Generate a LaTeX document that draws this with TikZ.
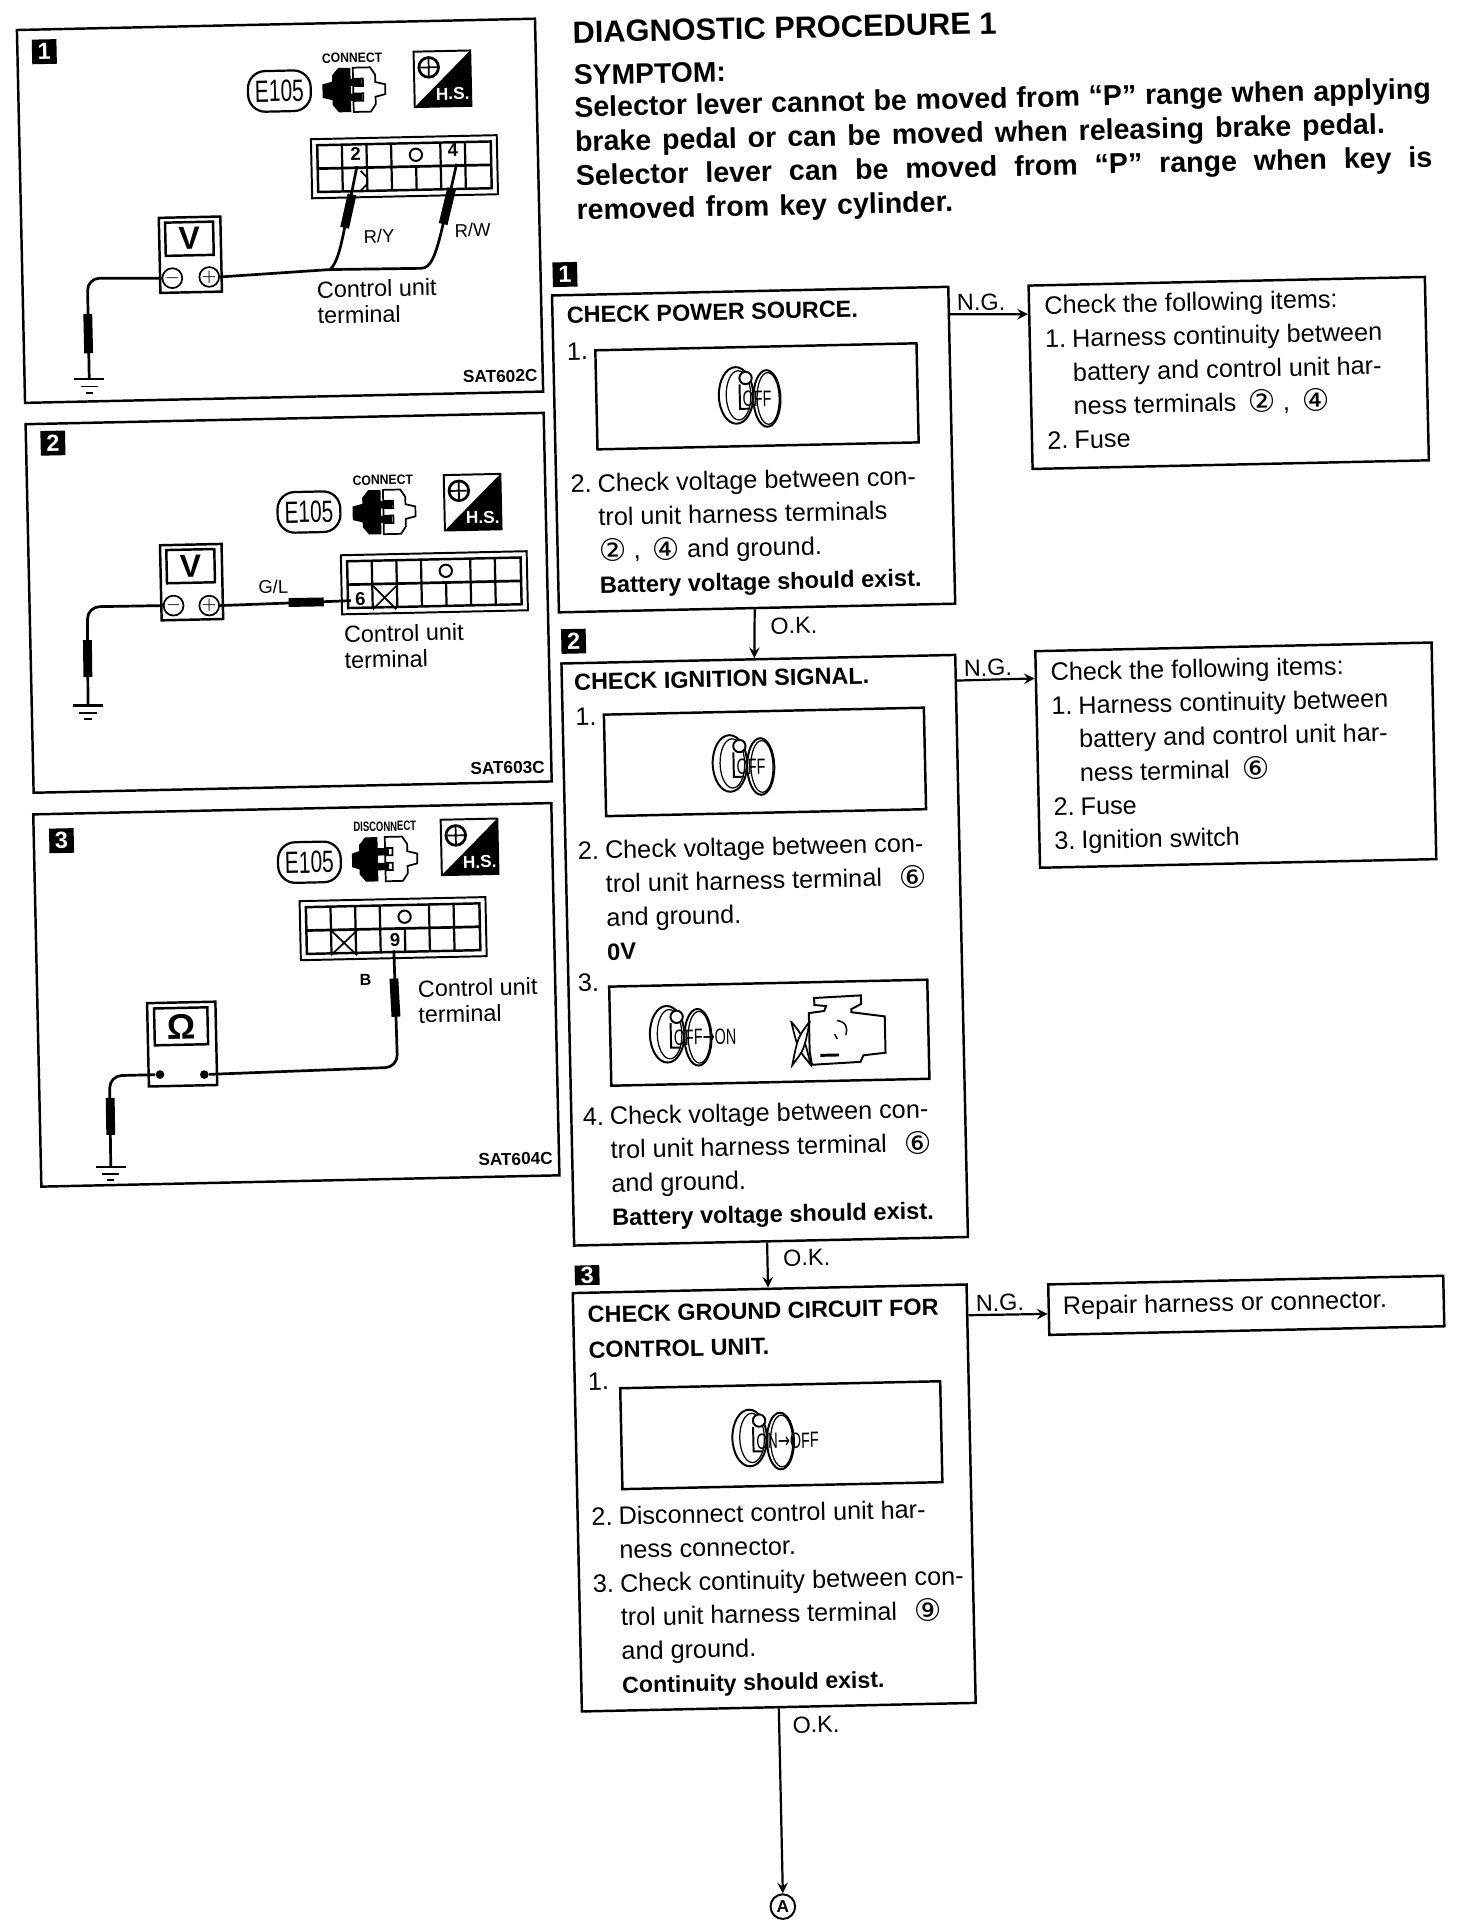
\documentclass[tikz,border=0pt]{standalone}
\usepackage{fontspec}
\usepackage{graphicx}
\setmainfont{Liberation Sans}
\newfontfamily\symfont{DejaVu Sans}
\usetikzlibrary{arrows,positioning,calc}

\newcommand{\skewangle}{1.25}
\newcommand{\ind}{\hspace*{11pt}}
\newcommand{\nitem}[1]{\makebox[11pt][l]{#1}}
\newcommand{\cnum}[1]{\raisebox{-.8pt}{\symfont\fontsize{12.5}{12.5}\selectfont #1}}
\newcommand{\lineto}[2]{\makebox[#1][s]{#2}}
\newcommand{\boldnote}[1]{{\bfseries\fontsize{9.6}{13.7}\selectfont #1}}

\begin{document}
\begin{tikzpicture}[
    x=.5pt, y=-.5pt,
    >=stealth,
    boxline/.style={draw, line width=1pt, rotate=\skewangle, inner sep=0pt},
    badge/.style={fill=black, text=white, rotate=\skewangle, inner sep=0pt, minimum size=10pt, font=\bfseries\fontsize{9.5}{9.5}\selectfont},
    txt/.style={rotate=\skewangle, inner sep=0pt, anchor=north west, align=left, font=\fontsize{10.25}{13.7}\selectfont},
    headtxt/.style={txt, font=\bfseries\fontsize{9.5}{14.4}\selectfont},
    smalltxt/.style={txt, font=\fontsize{9.5}{10.5}\selectfont},
    tagtxt/.style={rotate=\skewangle, inner sep=0pt, font=\fontsize{7.5}{7.5}\selectfont},
    sattxt/.style={rotate=\skewangle, inner sep=0pt, anchor=east, font=\bfseries\fontsize{7}{7}\selectfont},
    celltxt/.style={rotate=\skewangle, inner sep=0pt, font=\bfseries\fontsize{7.5}{7.5}\selectfont},
    flowtxt/.style={rotate=\skewangle, inner sep=0pt, font=\fontsize{9.5}{9.5}\selectfont},
    ecode/.style={draw, line width=.9pt, rounded corners=7pt, rotate=\skewangle, inner sep=0pt, minimum width=25.5pt, minimum height=16.5pt, font=\fontsize{12.5}{12.5}\selectfont},
    plugtxt/.style={rotate=\skewangle, inner sep=0pt, font=\bfseries\fontsize{5.5}{5.5}\selectfont},
    termcirc/.style={circle, draw, line width=.7pt, inner sep=0pt, minimum size=7pt, font=\fontsize{7}{7}\selectfont},
    termdot/.style={circle, fill=black, inner sep=0pt, minimum size=3.5pt},
    wire/.style={line width=1.1pt, rounded corners=5pt},
    probe/.style={line width=3.6pt},
    flowline/.style={line width=.9pt},
    pics/keyicon/.style={code={
        \draw[line width=.8pt, fill=white] (13,3) ellipse (11 and 23);
        \draw[line width=.5pt] (14,3) ellipse (9 and 21);
        \draw[line width=.8pt, fill=white] (-12,0) ellipse (14 and 23);
        \draw[line width=.5pt] (-10,0) ellipse (10 and 20);
        \draw[line width=.8pt, fill=white] (-4,-14) circle (5);
        \draw[line width=.8pt] (-9,-9) -- (-9,11) -- (-1,11);
        \node[transform shape, inner sep=0pt, anchor=west, font=\fontsize{9}{9}\selectfont] (-label) at (-7,3) {\scalebox{.65}[1]{#1}};
    }},
    pics/engineicon/.style={code={
        \draw[line width=.8pt] (-23,-25.7) -- (15,-27) -- (15,-20) -- (7,-16) -- (7,-13.5) -- (34,-9.5) -- (34,20) -- (16,21.7) -- (13.5,27) -- (-26,28.5) -- (-27.6,17.6) -- (-27.6,-13.5) -- (-15,-15) -- (-13.5,-19) -- (-23,-20) -- cycle;
        \draw[line width=.7pt, fill=white] (-42,-6.8) .. controls (-32,6) .. (-27,28.5) .. controls (-37,16) .. cycle;
        \draw[line width=.7pt, fill=white] (-27,-6.8) .. controls (-37,6) .. (-42,28.5) .. controls (-32,16) .. cycle;
        \draw[line width=.6pt] (-5,-7) .. controls (3,-6) and (4,0) .. (2,5);
        \draw[line width=.6pt] (-7,4) -- (-5,8);
        \draw[line width=1.2pt] (-19,21) -- (-4,21);
    }},
    pics/plugicon/.style={code={
        \draw[line width=.7pt, fill=white] (#1,-18) -- (14+#1,-18) -- (18+#1,-12) -- (18+#1,-6) -- (26+#1,-4) -- (26+#1,4) -- (18+#1,6) -- (18+#1,12) -- (14+#1,18) -- (#1,18) -- (#1,9) -- (8,9) -- (8,3) -- (#1,3) -- (#1,-3) -- (8,-3) -- (8,-9) -- (#1,-9) -- cycle;
        \fill (-2-#1,-18) -- (-12-#1,-18) -- (-17-#1,-12) -- (-17-#1,-7) -- (-25,-5) -- (-25,6) -- (-17-#1,8) -- (-17-#1,12) -- (-12-#1,18) -- (-2-#1,18) -- (-2-#1,9) -- (7-#1,9) -- (7-#1,3) -- (-2-#1,3) -- (-2-#1,-3) -- (7-#1,-3) -- (7-#1,-9) -- (-2-#1,-9) -- cycle;
    }},
    pics/hsicon/.style={code={
        \draw[line width=.8pt] (0,0) rectangle (46,45);
        \fill (0,45) -- (46,0) -- (46,45) -- cycle;
        \draw[line width=1.1pt] (12,13) circle (8);
        \draw[line width=.7pt] (5,13) -- (19,13) (12,6) -- (12,20);
        \node[transform shape, inner sep=0pt, text=white, font=\bfseries\fontsize{7}{7}\selectfont] (-label) at (31,35) {H.S.};
    }},
    pics/termgrid/.style={code={
        \draw[line width=.8pt] (-5,-5) rectangle (146,43);
        \draw[line width=1pt] (0,0) rectangle (141,38);
        \draw[line width=1.1pt] (0,19) -- (141,19);
        \foreach \col in {20,40,60,100,120} \draw[line width=.9pt] (\col,0) -- (\col,38);
        \draw[line width=.9pt] (80,19) -- (80,38);
        \draw[line width=.8pt] (80,9.5) circle (5);
    }},
    pics/meterbox/.style={code={
        \draw[line width=1pt] (0,0) rectangle (50,61);
        \draw[line width=1pt] (5,4) rectangle (44,31);
        \node[transform shape, inner sep=0pt, font=\bfseries\fontsize{13}{13}\selectfont] (-label) at (24.5,17.5) {#1};
    }},
    pics/groundmark/.style={code={
        \draw[line width=1pt] (-12,0) -- (12,0);
        \draw[line width=.8pt] (-7,6) -- (7,6);
        \draw[line width=.8pt] (-3,11) -- (3,11);
    }}
]
\useasboundingbox (0,0) rectangle (1196,1568);

% left column, panel 1
\node[boxline, minimum width=210.5pt, minimum height=151.5pt] (panelA) at (227.5,171.25) {};
\node[badge] (badgeA) at (36,42) {1};
\node[ecode] (ecodeA) at (227,74) {\scalebox{.68}[1]{E105}};
\node[plugtxt] (plugtxtA) at (286,47) {\scalebox{.9}[1]{CONNECT}};
\pic[rotate=\skewangle] (plugA) at (287,73) {plugicon=0};
\pic[rotate=\skewangle] (hsA) at (336,42) {hsicon};
\pic[rotate=\skewangle] (gridA) at (257.7,118) {termgrid};
\node[celltxt] (cellAb) at (289,125) {2};
\node[celltxt] (cellAd) at (368,122) {4};
\draw[line width=.7pt] (293,139) -- (298,144) (298,150) -- (293,155);
\pic[rotate=\skewangle] (meterA) at (129,177) {meterbox=V};
\node[termcirc] (minusA) at (140,226) {$-$};
\node[termcirc] (plusA) at (170,225) {$+$};
\coordinate (groundA) at (72.5,308);
\coordinate (joinA) at (268,219);
\coordinate (tipAb) at (290,135);
\coordinate (tipAd) at (371,133);
\draw[wire] (minusA.west) -- (71,226) -- (groundA);
\draw[probe] (71.3,255) -- (72,287);
\pic (gndA) at (groundA) {groundmark};
\draw[wire, sharp corners] (plusA.east) -- (joinA) -- (342,218) .. controls (350,218) and (354,208) .. (360,182) -- (tipAd);
\draw[wire, sharp corners] (joinA) .. controls (274,214) and (277,200) .. (280,185) -- (tipAb);
\draw[probe] (280,185) -- (286,158);
\draw[probe] (360,182) -- (367,153);
\node[tagtxt] (tagAy) at (308,192) {R/Y};
\node[tagtxt] (tagAw) at (384,187) {R/W};
\node[smalltxt] (ctrlA) at (257,228) {Control unit\\terminal};
\node[sattxt] (satA) at (437,305) {SAT602C};

% left column, panel 2
\node[boxline, minimum width=210.5pt, minimum height=149.75pt] (panelB) at (234.5,489.75) {};
\node[badge] (badgeB) at (43,360) {2};
\node[ecode] (ecodeB) at (251,416) {\scalebox{.68}[1]{E105}};
\node[plugtxt] (plugtxtB) at (311,390) {\scalebox{.9}[1]{CONNECT}};
\pic[rotate=\skewangle] (plugB) at (311.5,416) {plugicon=0};
\pic[rotate=\skewangle] (hsB) at (360.5,386) {hsicon};
\pic[rotate=\skewangle] (gridB) at (282,456) {termgrid};
\node[celltxt] (cellBf) at (292.7,487) {6};
\draw[line width=.7pt] (303,476) -- (322,495) (322,476) -- (303,495);
\pic[rotate=\skewangle] (meterB) at (130,443) {meterbox=V};
\node[termcirc] (minusB) at (141,492) {$-$};
\node[termcirc] (plusB) at (170,492) {$+$};
\coordinate (groundB) at (71.5,573);
\coordinate (tipBf) at (285,488);
\draw[wire] (minusB.west) -- (71,493) -- (groundB);
\draw[probe] (71,520) -- (71.4,550);
\pic (gndB) at (groundB) {groundmark};
\draw[wire] (plusB.east) -- (tipBf);
\draw[probe] (234.5,489.5) -- (263,489);
\node[tagtxt] (tagBl) at (222,476.5) {G/L};
\node[smalltxt] (ctrlB) at (279,508) {Control unit\\terminal};
\node[sattxt] (satB) at (443,623) {SAT603C};

% left column, panel 3
\node[boxline, minimum width=210.5pt, minimum height=151.25pt] (panelC) at (240.75,808.25) {};
\node[badge] (badgeC) at (50,683) {3};
\node[ecode] (ecodeC) at (251.4,700.5) {\scalebox{.68}[1]{E105}};
\node[plugtxt] (plugtxtC) at (312.6,671.5) {\scalebox{.7}[1]{DISCONNECT}};
\pic[rotate=\skewangle] (plugC) at (311,698) {plugicon=2};
\pic[rotate=\skewangle] (hsC) at (358,666) {hsicon};
\pic[rotate=\skewangle] (gridC) at (248.5,737) {termgrid};
\node[celltxt] (cellCi) at (321,764) {9};
\draw[line width=.7pt] (269,756) -- (290,776) (290,756) -- (269,776);
\pic[rotate=\skewangle, scale=1.11] (meterC) at (119.5,815) {meterbox=Ω};
\node[termdot] (minusC) at (130,873) {};
\node[termdot] (plusC) at (166,873) {};
\coordinate (groundC) at (90,948);
\coordinate (tipCi) at (320,772);
\draw[wire] (minusC) -- (89,874) -- (groundC);
\draw[probe] (89.5,892) -- (90,922);
\pic (gndC) at (groundC) {groundmark};
\draw[wire] (plusC) -- (323,867) -- (tipCi);
\draw[probe] (321.7,826) -- (320,795);
\node[tagtxt, font=\bfseries\fontsize{6.5}{6.5}\selectfont] (tagCb) at (297,796) {B};
\node[smalltxt] (ctrlC) at (339,796) {Control unit\\terminal};
\node[sattxt] (satC) at (449.5,941) {SAT604C};

% heading
\node[txt, anchor=base west, font=\bfseries\fontsize{12.5}{12.5}\selectfont] (pagetitle) at (465,35) {DIAGNOSTIC PROCEDURE 1};
\node[txt, anchor=base west, font=\bfseries\fontsize{11.5}{11.5}\selectfont] (symptomhead) at (466,69) {SYMPTOM:};
\node[headtxt, font=\bfseries\fontsize{11.6}{13.9}\selectfont] (symptomtxt) at (466,78) {\lineto{348pt}{Selector lever cannot be moved from “P” range when applying}\\
    \lineto{329pt}{brake pedal or can be moved when releasing brake pedal.}\\
    \lineto{348pt}{Selector lever can be moved from “P” range when key is}\\
    \lineto{153pt}{removed from key cylinder.}};

% step 1
\node[badge] (badgeD) at (459,223) {1};
\node[boxline, minimum width=161pt, minimum height=128.75pt] (stepA) at (612.25,365.25) {};
\node[headtxt] (titleA) at (460,249) {CHECK POWER SOURCE.};
\node[txt] (numAa) at (460,278) {1.};
\node[boxline, minimum width=130.5pt, minimum height=40.25pt] (imgA) at (615,322) {};
\pic[rotate=\skewangle] (keyA) at (610,321) {keyicon=OFF};
\node[txt] (bodyA) at (463,385) {\nitem{2.}Check voltage between con-\\
    \ind trol unit harness terminals\\
    \ind \cnum{②} ,\hspace{2pt} \cnum{④} and ground.\\
    \ind\boldnote{Battery voltage should exist.}};
\node[boxline, minimum width=161pt, minimum height=74.5pt] (resA) at (998.25,303) {};
\node[txt] (restxtA) at (848,240) {Check the following items:\\
    \nitem{1.}Harness continuity between\\
    \ind battery and control unit har-\\
    \ind ness terminals\hspace{2pt} \cnum{②} ,\hspace{2pt} \cnum{④}\\
    \nitem{2.}Fuse};

% step 2
\node[badge] (badgeE) at (466,521) {2};
\node[boxline, minimum width=160pt, minimum height=236.5pt] (stepB) at (621.25,772) {};
\node[headtxt] (titleB) at (466,547) {CHECK IGNITION SIGNAL.};
\node[txt] (numBa) at (467,575) {1.};
\node[boxline, minimum width=130pt, minimum height=41.25pt] (imgBa) at (621.5,619) {};
\pic[rotate=\skewangle] (keyBa) at (605,620) {keyicon=OFF};
\node[txt] (bodyBa) at (469,683) {\nitem{2.}Check voltage between con-\\
    \ind trol unit harness terminal\hspace{4pt} \cnum{⑥}\\
    \ind and ground.\\
    \ind\boldnote{0V}};
\node[txt] (numBb) at (469,791) {3.};
\node[boxline, minimum width=129.25pt, minimum height=40.25pt] (imgBb) at (625,839) {};
\pic[rotate=\skewangle] (keyBb) at (554,840) {keyicon={OFF{\symfont→}ON}};
\pic[rotate=\skewangle] (engineB) at (685,836) {engineicon};
\node[txt] (bodyBb) at (473,899) {\nitem{4.}Check voltage between con-\\
    \ind trol unit harness terminal\hspace{4pt} \cnum{⑥}\\
    \ind and ground.\\
    \ind\boldnote{Battery voltage should exist.}};
\node[boxline, minimum width=161pt, minimum height=88pt] (resB) at (1004,613.5) {};
\node[txt] (restxtB) at (853,538) {Check the following items:\\
    \nitem{1.}Harness continuity between\\
    \ind battery and control unit har-\\
    \ind ness terminal\hspace{2pt} \cnum{⑥}\\
    \nitem{2.}Fuse\\
    \nitem{3.}Ignition switch};

% step 3
\node[badge, minimum height=8pt] (badgeF) at (477,1036) {3};
\node[boxline, minimum width=160pt, minimum height=170pt] (stepC) at (629,1217) {};
\node[headtxt] (titleC) at (477,1061) {CHECK GROUND CIRCUIT FOR\\CONTROL UNIT.};
\node[txt] (numCa) at (477,1115) {1.};
\node[boxline, minimum width=130pt, minimum height=41pt] (imgC) at (634.75,1166) {};
\pic[rotate=\skewangle] (keyC) at (621,1168) {keyicon={ON{\symfont→}OFF}};
\node[txt] (bodyC) at (480,1224) {\nitem{2.}Disconnect control unit har-\\
    \ind ness connector.\\
    \nitem{3.}Check continuity between con-\\
    \ind trol unit harness terminal\hspace{4pt} \cnum{⑨}\\
    \ind and ground.\\
    \ind{\bfseries\fontsize{9.4}{13.7}\selectfont Continuity should exist.}};
\node[boxline, minimum width=160.5pt, minimum height=20.5pt] (resC) at (1012.5,1060.5) {};
\node[txt] (restxtC) at (863,1053) {Repair harness or connector.};

\node[circle, draw, line width=.8pt, inner sep=0pt, minimum size=10pt, font=\bfseries\fontsize{7}{7}\selectfont] (endA) at (636,1549) {A};

% flow connectors
\path[->, flowline]
    ($(stepA.north east)!.09!(stepA.south east)$) edge node[flowtxt, above=1pt, pos=.4] (ngA) {N.G.} ($(resA.north west)!.16!(resA.south west)$)
    ($(stepB.north east)!.046!(stepB.south east)$) edge node[flowtxt, above=1pt, pos=.4] (ngB) {N.G.} ($(resB.north west)!.13!(resB.south west)$)
    ($(stepC.north east)!.076!(stepC.south east)$) edge node[flowtxt, above=1pt, pos=.4] (ngC) {N.G.} ($(resC.north west)!.58!(resC.south west)$)
    ($(stepA.south west)!.494!(stepA.south east)$) edge node[flowtxt, right=6pt, pos=.35] (okA) {O.K.} ($(stepB.north west)!.49!(stepB.north east)$)
    ($(stepB.south west)!.49!(stepB.south east)$) edge node[flowtxt, right=6pt, pos=.35] (okB) {O.K.} ($(stepC.north west)!.496!(stepC.north east)$)
    (stepC.south) edge node[flowtxt, right=5pt, pos=.09] (okC) {O.K.} (endA.north);

\end{tikzpicture}
\end{document}
